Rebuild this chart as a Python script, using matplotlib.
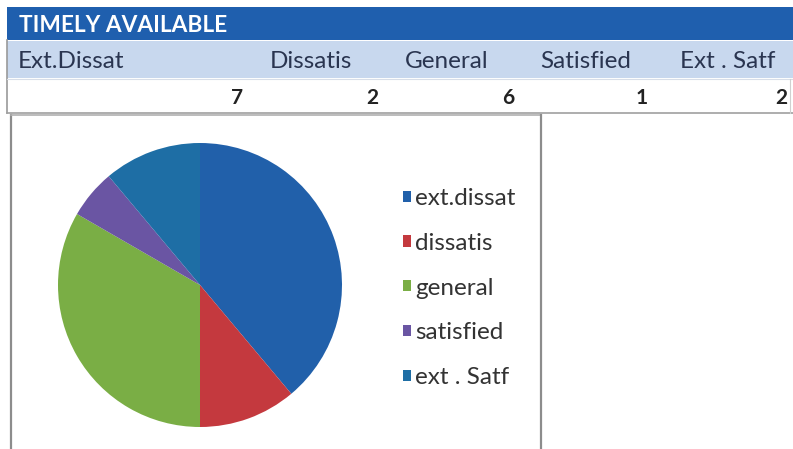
import matplotlib
matplotlib.use("Agg")
import matplotlib.pyplot as plt
from matplotlib.patches import Rectangle, Patch

plt.rcParams['font.family'] = ['Lato', 'DejaVu Sans']

title = "TIMELY AVAILABLE"
headers = ["Ext.Dissat", "Dissatis", "General", "Satisfied", "Ext . Satf"]
values = [7, 2, 6, 1, 2]
legend_labels = ["ext.dissat", "dissatis", "general", "satisfied", "ext . Satf"]
colors = ["#2160AA", "#C4393E", "#7AAE45", "#6A55A3", "#1E6EA5"]

W, H = 793, 449
fig = plt.figure(figsize=(W / 100, H / 100), dpi=100)
fig.patch.set_facecolor("white")

# table layer in pixel coordinates
tab = fig.add_axes([0, 0, 1, 1])
tab.set_xlim(0, W)
tab.set_ylim(H, 0)
tab.axis("off")

tab.add_patch(Rectangle((7, 7), W - 7, 33, facecolor="#1F5FAE", edgecolor="none"))
tab.text(19, 25, title, color="white", fontsize=16.3, fontweight="bold", va="center", ha="left")

tab.add_patch(Rectangle((7, 41), W - 7, 37, facecolor="#C8D8EE", edgecolor="none"))
header_x = [18, 270, 405, 540, 680]
for x, h in zip(header_x, headers):
    tab.text(x, 62, h, color="#2A3550", fontsize=17.5, va="center", ha="left")

value_x = [243, 378, 514, 648, 787]
for x, v in zip(value_x, values):
    tab.text(x, 98, str(v), color="#222222", fontsize=15, fontweight="bold", va="center", ha="right")

tab.plot([7, 7], [40, 113], color="#9A9A9A", lw=1.2)
tab.plot([7, W], [79, 79], color="#D8DEE8", lw=0.8)
tab.plot([7, W], [113, 113], color="#A0A0A0", lw=1.2)
tab.plot([790, 790], [79, 113], color="#D0D0D0", lw=0.8)

# chart frame
tab.plot([11, 11], [115, H], color="#8C8C8C", lw=1.6)
tab.plot([11, 541], [115, 115], color="#B0B0B0", lw=1.2)
tab.plot([541, 541], [115, H], color="#8C8C8C", lw=1.6)

# pie
cx, cy, r = 200, 285, 142
pax = fig.add_axes([(cx - r) / W, (H - cy - r) / H, 2 * r / W, 2 * r / H])
pax.pie(values, colors=colors, startangle=90, counterclock=False,
        wedgeprops=dict(linewidth=0))
pax.set_xlim(-1, 1)
pax.set_ylim(-1, 1)
pax.set_aspect("auto")
pax.axis("off")

handles = [Patch(facecolor=c, edgecolor="none") for c in colors]
fig.legend(handles, legend_labels, loc="upper left",
           bbox_to_anchor=(381 / W, 1 - 166 / H), frameon=False,
           fontsize=17.5, handlelength=0.33, handleheight=0.33, handletextpad=0.18,
           labelspacing=0.98, labelcolor="#333333")

fig.savefig("out.png", dpi=100, facecolor="white")
